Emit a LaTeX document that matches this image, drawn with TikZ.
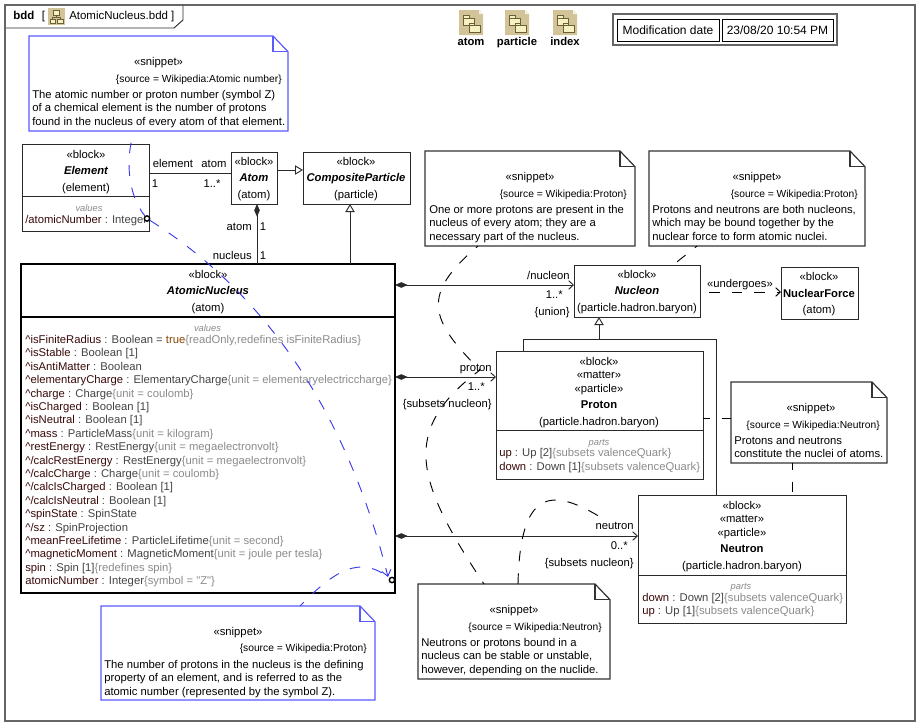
\documentclass[tikz,border=0pt]{standalone}
\usepackage{fontspec}
\usepackage{tikz}
\usetikzlibrary{arrows.meta}
\newfontfamily\diagfont[Ligatures=NoCommon]{Liberation Sans}

\definecolor{framegray}{HTML}{666666}
\definecolor{linedark}{HTML}{2A2A2A}
\definecolor{notedark}{HTML}{333333}
\definecolor{noteblue}{HTML}{5A5AFF}
\definecolor{dashblue}{HTML}{3A3AEE}
\definecolor{propname}{HTML}{3A0A0A}
\definecolor{proptype}{HTML}{444444}
\definecolor{propextra}{HTML}{8C8C8C}
\definecolor{proptrue}{HTML}{8A4500}
\definecolor{icontan}{HTML}{D2C498}
\definecolor{iconpale}{HTML}{F7F0C0}
\definecolor{iconline}{HTML}{6B5F3A}

\newcommand{\nm}[1]{\textcolor{propname}{#1}}
\newcommand{\ty}[1]{\textcolor{proptype}{#1}}
\newcommand{\cn}[1]{\textcolor{propextra}{\{#1\}}}
\newcommand{\up}{\textasciicircum}

% outline of a note round a named node
\newcommand{\noteshape}[2]{
  \draw[#2, line width=0.9pt, fill=white] (#1.north west) -- ([xshift=-11.25pt]#1.north east)
    -- ([yshift=-11.75pt]#1.north east) -- (#1.south east) -- (#1.south west) -- cycle;
  \draw[#2, line width=0.9pt] ([xshift=-11.25pt]#1.north east) -- ([xshift=-11.25pt,yshift=-11.75pt]#1.north east)
    -- ([yshift=-11.75pt]#1.north east);
}

\tikzset{
  txt/.style={font=\diagfont\fontsize{8.45}{10.05}\selectfont, inner sep=0pt, text height=7pt, text depth=0pt, text=black},
  smalltxt/.style={txt, font=\diagfont\fontsize{7.7}{10}\selectfont},
  headtxt/.style={txt, font=\diagfont\fontsize{8.6}{11}\selectfont},
  tabletxt/.style={txt, font=\diagfont\fontsize{9}{11}\selectfont},
  boldtxt/.style={txt, font=\diagfont\bfseries\fontsize{8.45}{10}\selectfont},
  nametxt/.style={txt, font=\diagfont\bfseries\itshape\fontsize{8.45}{10}\selectfont},
  lines/.style={font=\diagfont\fontsize{8.45}{10.05}\selectfont, inner sep=0pt, align=left, anchor=north west},
  comphead/.style={txt, font=\diagfont\itshape\fontsize{7}{9}\selectfont, text=propextra},
  blockbox/.style 2 args={draw=linedark, line width=0.75pt, fill=white, anchor=north west, inner sep=0pt, outer sep=0pt,
    minimum width=#1*0.75pt, minimum height=#2*0.75pt},
  notebody/.style 2 args={inner sep=0pt, outer sep=0pt, anchor=north west, minimum width=#1*0.75pt, minimum height=#2*0.75pt},
  ringdot/.style={draw=black, line width=1.1pt, circle, inner sep=0pt, minimum size=4pt, fill=white},
  assoc/.style={draw=linedark, line width=0.75pt},
  compos/.style={assoc, {Diamond[length=9.5pt,width=4.2pt]}-},
  composto/.style={assoc, {Diamond[length=9.5pt,width=4.2pt]}-{Straight Barb[length=3.5pt,width=6.5pt,line width=0.7pt]}},
  genline/.style={assoc, -{Triangle[open,length=6pt,width=7pt,fill=white,line width=0.7pt]}},
  depline/.style={draw=black, line width=0.7pt, dash pattern=on 8pt off 9pt},
  linkblue/.style={draw=dashblue, line width=0.7pt, dash pattern=on 8pt off 9pt},
  pkgicon/.pic={
    \fill[icontan] (0,0) -- (20,0) -- (24,4) -- (24,25) -- (0,25) -- cycle;
    \fill[white!80!icontan] (20,0) -- (24,4) -- (20,4) -- cycle;
    \draw[iconline, line width=0.4pt, fill=iconpale] (4,5.5) rectangle (10,8);
    \draw[iconline, line width=0.4pt, fill=iconpale] (4,8) rectangle (15,15);
    \draw[iconline, line width=0.4pt, fill=iconpale] (10,13) rectangle (15,15.5);
    \draw[iconline, line width=0.4pt, fill=iconpale] (10,15.5) rectangle (21,22);
  },
  diagicon/.pic={
    \fill[icontan] (0,0) rectangle (17,17);
    \draw[iconline, line width=0.4pt, fill=iconpale] (5.5,2.5) rectangle (11.5,7);
    \draw[iconline, line width=0.4pt, fill=iconpale] (2,11) rectangle (7.5,15);
    \draw[iconline, line width=0.4pt, fill=iconpale] (9.5,11) rectangle (15,15);
    \draw[iconline, line width=0.4pt] (8.5,7) -- (8.5,9) (4.7,11) -- (4.7,9) -- (12.2,9) -- (12.2,11);
  }
}

\begin{document}
\begin{tikzpicture}[x=0.75pt, y=-0.75pt]
  \useasboundingbox (0,0) rectangle (920,726);

  % frame and header
  \draw[draw=framegray, line width=1pt] (5,5) rectangle (915,721);
  \draw[draw=linedark, line width=0.7pt, fill=white] (5,5) -- (183,5) -- (183,20) -- (174,28) -- (5,28) -- cycle;
  \draw[draw=framegray, line width=1pt] (5,5) -- (183,5) (5,5) -- (5,28);
  \node[txt, right, font=\diagfont\bfseries\fontsize{8.6}{11}\selectfont] (bddkind) at (13,15) {bdd};
  \node[headtxt, right] (bddopen) at (41.5,15) {[};
  \pic at (48,8) {diagicon};
  \node[headtxt, right] (bddname) at (69,15) {AtomicNucleus.bdd ]};

  % package shortcuts
  \pic at (459,10) {pkgicon};
  \pic at (505,10) {pkgicon};
  \pic at (553,10) {pkgicon};
  \node[boldtxt] (pkgatom) at (471,41) {atom};
  \node[boldtxt] (pkgparticle) at (517,41) {particle};
  \node[boldtxt] (pkgindex) at (565,41) {index};

  % modification table
  \draw[draw=framegray, line width=0.8pt] (613,14) rectangle (837,45);
  \draw[draw=black, line width=0.7pt] (617,19) rectangle (719,41);
  \draw[draw=black, line width=0.7pt] (722,19) rectangle (833,41);
  \node[tabletxt] (modlabel) at (668,29.5) {Modification date};
  \node[tabletxt] (modvalue) at (777.5,29.5) {23/08/20 10:54 PM};

  % Element
  \node[blockbox={127}{87}] (element) at (22,144) {};
  \draw[assoc] (22,196) -- (149,196);
  \node[txt] (elementa) at (86,154) {«block»};
  \node[nametxt] (elementb) at (86,170) {Element};
  \node[txt] (elementc) at (86,187) {(element)};
  \node[comphead] (elementvals) at (89,207) {values};
  \node[txt, right] (elementprop) at (25,219) {\nm{/atomicNumber} \ty{: Integer}};
  \node[ringdot] (elementdot) at (147,218.5) {};

  % Atom
  \node[blockbox={46}{52}] (atom) at (231,152) {};
  \node[txt] (atoma) at (254,161) {«block»};
  \node[nametxt] (atomb) at (254,177) {Atom};
  \node[txt] (atomc) at (254,194) {(atom)};

  % CompositeParticle
  \node[blockbox={107}{52}] (composite) at (303,152) {};
  \node[txt] (compositea) at (356,161) {«block»};
  \node[nametxt] (compositeb) at (356,177) {CompositeParticle};
  \node[txt] (compositec) at (356,194) {(particle)};

  % AtomicNucleus
  \node[blockbox={374}{329}, line width=1.8pt, draw=black] (nucleus) at (21,264) {};
  \draw[draw=black, line width=1.4pt] (21,317) -- (395,317);
  \node[txt] (nucleusa) at (208,274) {«block»};
  \node[nametxt] (nucleusb) at (208,290) {AtomicNucleus};
  \node[txt] (nucleusc) at (208,307) {(atom)};
  \node[comphead] (nucleusvals) at (207.5,327) {values};
  \node[lines] (nucleusprops) at (25,335) {%
    \nm{\up isFiniteRadius} \ty{: Boolean = }\textcolor{proptrue}{true}\cn{readOnly,redefines isFiniteRadius}\\
    \nm{\up isStable} \ty{: Boolean [1]}\\
    \nm{\up isAntiMatter} \ty{: Boolean}\\
    \nm{\up elementaryCharge} \ty{: ElementaryCharge}\cn{unit = elementaryelectriccharge}\\
    \nm{\up charge} \ty{: Charge}\cn{unit = coulomb}\\
    \nm{\up isCharged} \ty{: Boolean [1]}\\
    \nm{\up isNeutral} \ty{: Boolean [1]}\\
    \nm{\up mass} \ty{: ParticleMass}\cn{unit = kilogram}\\
    \nm{\up restEnergy} \ty{: RestEnergy}\cn{unit = megaelectronvolt}\\
    \nm{\up/calcRestEnergy} \ty{: RestEnergy}\cn{unit = megaelectronvolt}\\
    \nm{\up/calcCharge} \ty{: Charge}\cn{unit = coulomb}\\
    \nm{\up/calcIsCharged} \ty{: Boolean [1]}\\
    \nm{\up/calcIsNeutral} \ty{: Boolean [1]}\\
    \nm{\up spinState} \ty{: SpinState}\\
    \nm{\up/sz} \ty{: SpinProjection}\\
    \nm{\up meanFreeLifetime} \ty{: ParticleLifetime}\cn{unit = second}\\
    \nm{\up magneticMoment} \ty{: MagneticMoment}\cn{unit = joule per tesla}\\
    \nm{spin} \ty{: Spin [1]}\cn{redefines spin}\\
    \nm{atomicNumber} \ty{: Integer}\cn{symbol = "Z"}};
  \node[ringdot] (nucleusdot) at (392,580) {};

  % Nucleon
  \node[blockbox={126}{52}] (nucleon) at (574,265) {};
  \node[txt] (nucleona) at (637,274) {«block»};
  \node[nametxt] (nucleonb) at (637,290) {Nucleon};
  \node[txt] (nucleonc) at (637,307) {(particle.hadron.baryon)};

  % NuclearForce
  \node[blockbox={77}{52}] (force) at (781,267) {};
  \node[txt] (forcea) at (819,276) {«block»};
  \node[boldtxt] (forceb) at (819,293) {NuclearForce};
  \node[txt] (forcec) at (819,309) {(atom)};

  % Proton
  \node[blockbox={207}{128}] (proton) at (496,351) {};
  \draw[assoc] (496,430) -- (703,430);
  \node[txt] (protona) at (599,361) {«block»};
  \node[txt] (protonb) at (599,374) {«matter»};
  \node[txt] (protonc) at (599,388) {«particle»};
  \node[boldtxt] (protond) at (599,404) {Proton};
  \node[txt] (protone) at (599,421) {(particle.hadron.baryon)};
  \node[comphead] (protonparts) at (599,441) {parts};
  \node[txt, right] (protonup) at (499,452) {\nm{up} \ty{: Up [2]}\cn{subsets valenceQuark}};
  \node[txt, right] (protondown) at (499,466) {\nm{down} \ty{: Down [1]}\cn{subsets valenceQuark}};

  % Neutron
  \node[blockbox={208}{128}] (neutron) at (638,495) {};
  \draw[assoc] (638,575) -- (846,575);
  \node[txt] (neutrona) at (742,505) {«block»};
  \node[txt] (neutronb) at (742,518) {«matter»};
  \node[txt] (neutronc) at (742,532) {«particle»};
  \node[boldtxt] (neutrond) at (742,548) {Neutron};
  \node[txt] (neutrone) at (742,565) {(particle.hadron.baryon)};
  \node[comphead] (neutronparts) at (741,585) {parts};
  \node[txt, right] (neutrondown) at (642,597) {\nm{down} \ty{: Down [2]}\cn{subsets valenceQuark}};
  \node[txt, right] (neutronup) at (642,610) {\nm{up} \ty{: Up [1]}\cn{subsets valenceQuark}};

  % notes
  \node[notebody={259}{95}] (snipnumber) at (29,36) {};
  \noteshape{snipnumber}{noteblue}
  \node[txt] (snipnumbera) at (158.5,61) {«snippet»};
  \node[smalltxt, left] (snipnumberb) at (282,78) {\{source = Wikipedia:Atomic number\}};
  \node[lines] (snipnumberc) at (32,90) {The atomic number or proton number (symbol Z)\\of a chemical element is the number of protons\\found in the nucleus of every atom of that element.};

  \node[notebody={210}{95}] (sniporder) at (425,151) {};
  \noteshape{sniporder}{notedark}
  \node[txt] (snipordera) at (530,176) {«snippet»};
  \node[smalltxt, left] (sniporderb) at (627,193) {\{source = Wikipedia:Proton\}};
  \node[lines] (sniporderc) at (429,205) {One or more protons are present in the\\nucleus of every atom; they are a\\necessary part of the nucleus.};

  \node[notebody={216}{95}] (snipbound) at (649,151) {};
  \noteshape{snipbound}{notedark}
  \node[txt] (snipbounda) at (757,176) {«snippet»};
  \node[smalltxt, left] (snipboundb) at (858,193) {\{source = Wikipedia:Proton\}};
  \node[lines] (snipboundc) at (652,205) {Protons and neutrons are both nucleons,\\which may be bound together by the\\nuclear force to form atomic nuclei.};

  \node[notebody={156}{81}] (snipnuclei) at (731,382) {};
  \noteshape{snipnuclei}{notedark}
  \node[txt] (snipnucleia) at (811,407) {«snippet»};
  \node[smalltxt, left] (snipnucleib) at (880,424) {\{source = Wikipedia:Neutron\}};
  \node[lines] (snipnucleic) at (734,436) {Protons and neutrons\\constitute the nuclei of atoms.};

  \node[notebody={192}{95}] (snipstable) at (418,584) {};
  \noteshape{snipstable}{notedark}
  \node[txt] (snipstablea) at (514,609) {«snippet»};
  \node[smalltxt, left] (snipstableb) at (602,626) {\{source = Wikipedia:Neutron\}};
  \node[lines] (snipstablec) at (421,638) {Neutrons or protons bound in a\\nucleus can be stable or unstable,\\however, depending on the nuclide.};

  \node[notebody={274}{94}] (snipdefine) at (101,606) {};
  \noteshape{snipdefine}{noteblue}
  \node[txt] (snipdefinea) at (238,631) {«snippet»};
  \node[smalltxt, left] (snipdefineb) at (367,647) {\{source = Wikipedia:Proton\}};
  \node[lines] (snipdefinec) at (104,660) {The number of protons in the nucleus is the defining\\property of an element, and is referred to as the\\atomic number (represented by the symbol Z).};

  % free ends of the connectors
  \coordinate (hub) at (716,339);
  \coordinate (protonmark) at (480,370);
  \coordinate (neutronmark) at (605,520);

  % associations
  \draw[assoc] (element.east |- 0,173) -- (atom.west |- 0,173);
  \draw[compos] (atom.south -| 257,0) -- (nucleus.north -| 257,0);
  \draw[genline] (atom.east |- 0,170) -- (composite.west |- 0,170);
  \draw[genline] (nucleus.north -| 350,0) -- (composite.south -| 350,0);
  \draw[composto] (nucleus.east |- 0,285) -- (nucleon.west |- 0,285);
  \draw[composto] (nucleus.east |- 0,377) -- (proton.west |- 0,377);
  \draw[composto] (nucleus.east |- 0,536) -- (neutron.west |- 0,536);
  \draw[assoc] (proton.north -| 523,0) |- (hub);
  \draw[assoc] (neutron.north -| hub) -- (hub);
  \draw[genline] (hub -| 599,0) -- (nucleon.south -| 599,0);
  \draw[depline, -{Straight Barb[length=3.5pt,width=6.5pt,line width=0.7pt]}] (709,292) -- (force.west |- 0,292);

  % association labels
  \node[txt] (lblelement) at (173,163) {element};
  \node[txt] (lblatom) at (214,163) {atom};
  \node[txt] (lblone) at (155,183) {1};
  \node[txt] (lblmany) at (212,183) {1..*};
  \node[txt, left] (lblatomb) at (252,226) {atom};
  \node[txt] (lblatomc) at (263,226) {1};
  \node[txt, left] (lblnucleus) at (252,255) {nucleus};
  \node[txt] (lblnucleusc) at (263,255) {1};
  \node[txt, left] (lblnucleon) at (570,275) {/nucleon};
  \node[txt, left] (lblnucleonm) at (563,294) {1..*};
  \node[txt, left] (lblunion) at (570,311) {\{union\}};
  \node[txt, left] (lblproton) at (492,367) {proton};
  \node[txt, left] (lblprotonm) at (485,386) {1..*};
  \node[txt, left] (lblprotons) at (492,403) {\{subsets nucleon\}};
  \node[txt, left] (lblneutron) at (634,525) {neutron};
  \node[txt, left] (lblneutronm) at (628,545) {0..*};
  \node[txt, left] (lblneutrons) at (634,562) {\{subsets nucleon\}};
  \node[txt] (lblundergoes) at (740,283) {«undergoes»};

  % note links
  \draw[depline, dash phase=6pt] (snipbound.south -| 697,0) -- (nucleon.north -| 673,0);
  \draw[depline, dash phase=3pt] (proton.east |- 0,418) -- (snipnuclei.west |- 0,418);
  \draw[depline, dash phase=3pt] (snipnuclei.south -| 792,0) -- (neutron.north -| 792,0);
  \draw[depline, dash phase=6pt] (sniporder.south -| 478,0) .. controls (420,295) and (430,320) .. (protonmark);
  \draw[depline, dash phase=3pt] (protonmark) .. controls (400,430) and (415,480) .. (snipstable.north -| 484,0);
  \draw[depline] (snipstable.north -| 518,0) .. controls (520,490) and (550,485) .. (neutronmark);
  \draw[linkblue, dash phase=8pt] (snipnumber.south -| 134,0) .. controls (125,160) and (128,195) .. (elementdot);
  \draw[linkblue, -{Straight Barb[length=4.5pt,width=7pt,line width=0.7pt]}] (elementdot) .. controls (260,290) and (345,405) .. (388,577);
  \draw[linkblue, dash phase=4pt] (snipdefine.north -| 300,0) .. controls (335,570) and (360,555) .. (nucleusdot);
\end{tikzpicture}
\end{document}
